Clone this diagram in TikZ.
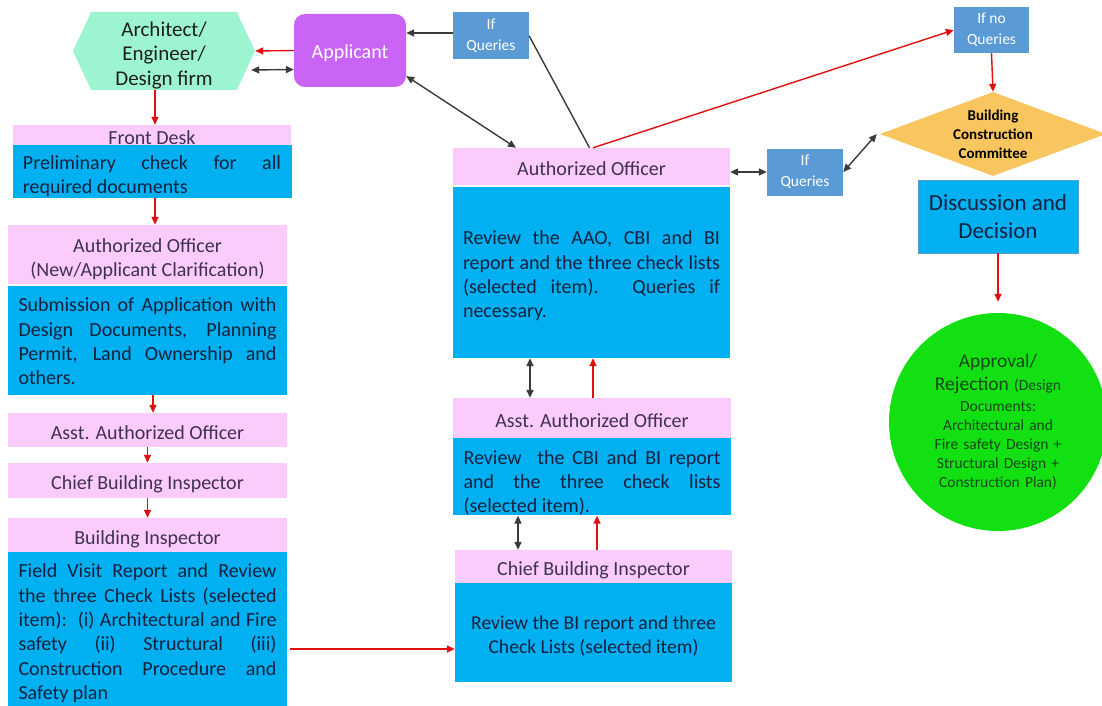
\documentclass[tikz,border=0pt]{standalone}
\usepackage{fontspec}
\setmainfont{Carlito}
\usetikzlibrary{arrows.meta,shapes.geometric,shapes.symbols,calc}

\definecolor{bandpink}{HTML}{FBCBFB}
\definecolor{bandtext}{HTML}{3F3151}
\definecolor{bodyblue}{HTML}{00B0F0}
\definecolor{bodytext}{HTML}{15213F}
\definecolor{qblue}{HTML}{5B9BD5}
\definecolor{apppurple}{HTML}{C964F6}
\definecolor{mint}{HTML}{9CF5D0}
\definecolor{minttext}{HTML}{1E1E1E}
\definecolor{gold}{HTML}{F9C55E}
\definecolor{okgreen}{HTML}{12E012}
\definecolor{greentext}{HTML}{174A17}
\definecolor{arrred}{HTML}{E01010}
\definecolor{arrgray}{HTML}{3A3A3A}

\begin{document}
% no hyphenation inside the justified boxes, and some slack for tight lines
\hyphenpenalty=10000
\exhyphenpenalty=10000
\emergencystretch=20pt
\begin{tikzpicture}[x=1pt,y=-1pt,
  every node/.style={inner sep=0pt},
  band/.style={fill=bandpink, text=bandtext, minimum width=279, align=center,
    text height=18.5pt, text depth=0pt, font=\fontsize{20}{23.5}\selectfont},
  body/.style={fill=bodyblue, text=bodytext, text width=258, inner xsep=10.5,
    text height=21pt, align=justify, font=\fontsize{20}{24.3}\selectfont},
  query/.style={fill=qblue, text=white, minimum width=76, minimum height=47,
    align=center, font=\fontsize{15.5}{21}\selectfont},
  flow/.style={draw=arrred, line width=1.4, -{Triangle[length=8,width=7]}},
  link/.style={draw=arrgray, line width=1.4, {Triangle[length=8,width=7]}-{Triangle[length=8,width=7]}},
  tie/.style={draw=arrgray, line width=1.4},
  toward/.style={draw=arrgray, line width=1.4, -{Triangle[length=8,width=7]}}
]
\fill[white] (0,0) rectangle (1102,706);
\useasboundingbox (0,0) rectangle (1102,706);

% ---------- top row ----------
\node[signal, signal to=west and east, signal pointer angle=130, fill=mint,
  minimum width=182, minimum height=78,
  label={[yshift=-4.5pt, align=center, text=minttext, font=\fontsize{21}{24.5}\selectfont]center:Architect/\\Engineer/\\Design firm}]
  (arch) at (164,51) {};
\node[fill=apppurple, rounded corners=11, minimum width=112, minimum height=73,
  text=white, text depth=0pt, font=\fontsize{20}{24}\selectfont] (app) at (350,50.5)
  {\raisebox{-1.5pt}{Applicant}};
\node[query] (q1) at (491,36) {If\\Queries};
\node[query, minimum width=75, minimum height=46] (q2) at (991.5,30) {If no\\Queries};

% ---------- left column ----------
\node[band, minimum width=278, minimum height=20] (fd_h) at (152,135) {Front Desk};
\node[body, minimum height=53, text height=23.5pt] (fd_b) at (152,171.5)
  {Preliminary check for all\linebreak required documents};
\node[band, minimum height=59, text height=48pt, text depth=5pt] (ao_h) at (147.5,254.5)
  {Authorized Officer\\(New/Applicant Clarification)};
\node[body, minimum height=109, text height=16pt] (ao_b) at (147.5,340.5)
  {Submission of Application with\linebreak Design Documents, Planning\linebreak
   Permit, Land Ownership and\linebreak others.};
\node[band, minimum height=34] (aao_h) at (147.5,430) {Asst. Authorized Officer};
\node[band, minimum height=35] (cbi_h) at (147.5,480.5) {Chief Building Inspector};
\node[band, minimum height=34] (bi_h) at (147.5,535) {Building Inspector};
\node[body, minimum height=158, text height=18.5pt] (bi_b) at (147.5,631)
  {Field Visit Report and Review\linebreak the three Check Lists (selected\linebreak
   item):\ \ (i) Architectural and Fire\linebreak safety (ii) Structural (iii)\linebreak
   Construction Procedure and\linebreak Safety plan};

% ---------- middle column ----------
\node[band, minimum width=277, minimum height=37] (mao_h) at (591.5,166.5) {Authorized Officer};
\node[body, minimum height=171, text width=257, inner xsep=10] (mao_b) at (591.5,272.5)
  {Review the AAO, CBI and BI\linebreak report and the three check lists\linebreak
   (selected item). Queries if\linebreak necessary.};
\node[band, minimum width=278, minimum height=40] (maao_h) at (592,418) {Asst. Authorized Officer};
\node[body, minimum height=77, text width=257, inner xsep=10.5, text height=26.5pt] (maao_b) at (592,476.5)
  {Review\ \ the CBI and BI report\linebreak and the three check lists\linebreak
   (selected item).};
\node[band, minimum width=277, minimum height=33] (mcbi_h) at (593.5,566.5) {Chief Building Inspector};
\node[fill=bodyblue, text=bodytext, minimum width=277, minimum height=99, align=center,
  text height=47pt, text depth=5pt, font=\fontsize{19.6}{24.3}\selectfont] (mcbi_b) at (593.5,632.5)
  {Review the BI report and three\\Check Lists (selected item)};

% ---------- right column ----------
\node[query] (q3) at (805,172) {If\\Queries};
\node[diamond, fill=gold, minimum width=226, minimum height=84,
  label={[align=center, text=black, font=\bfseries\fontsize{15}{19}\selectfont]center:Building\\Construction\\Committee}]
  (bcc) at (993,134) {};
\node[fill=bodyblue, draw=qblue, line width=0.6, minimum width=160, minimum height=73,
  align=center, text=bodytext, text depth=0pt, font=\fontsize{23}{28}\selectfont] (disc) at (998,216.5)
  {Discussion and\\Decision};
\node[circle, fill=okgreen, minimum size=218, text width=150, align=center,
  text=greentext, font=\fontsize{15.5}{19}\selectfont] (verdict) at (998,422)
  {{\fontsize{19.5}{23}\selectfont Approval/}\\[4pt]{\fontsize{19.5}{23}\selectfont Rejection} (Design\\[2pt]
   Documents:\\Architectural and\\Fire safety Design +\\Structural Design +\\Construction Plan)};

% ---------- connectors: left column ----------
\draw[flow] (app.west) -- (arch.east);
\draw[link] ([yshift=-19pt]app.west) -- ($(arch.east)+(-4,19)$);
\draw[flow] ([xshift=-9pt]arch.south) -- ([xshift=-9pt]arch.south |- fd_h.north);
\draw[flow] ([xshift=3pt]fd_b.south) -- ([xshift=3pt]fd_b.south |- ao_h.north);
\draw[flow] ([xshift=5.5pt]ao_b.south) -- ([xshift=5.5pt]ao_b.south |- aao_h.north);
\draw[flow] (aao_h.south) -- (cbi_h.north);
\draw[flow] (cbi_h.south) -- (bi_h.north);
\draw[flow] ([yshift=-18pt,xshift=3pt]bi_b.east) -- ([yshift=-18pt]bi_b.east -| mcbi_b.west);

% ---------- connectors: middle column ----------
\draw[toward] ([yshift=3pt]q1.west) -- ([yshift=3pt]q1.west -| app.east);
\draw[tie] (q1.east) -- ([xshift=-2pt]mao_h.north);
\draw[link] ([yshift=-25.5pt]app.east) -- ([xshift=-75.5pt]mao_h.north);
\draw[flow] ([xshift=1.5pt]mao_h.north) -- (q2.west);
\draw[link] ([xshift=-61.5pt]mao_b.south) -- ([xshift=-62pt]maao_h.north);
\draw[flow] ([xshift=1pt]maao_h.north) -- ([xshift=1pt]maao_h.north |- mao_b.south);
\draw[link] ([xshift=-74pt]maao_b.south) -- ([xshift=-75.5pt]mcbi_h.north);
\draw[flow] ([xshift=3.5pt]mcbi_h.north) -- ([xshift=3.5pt]mcbi_h.north |- maao_b.south);

% ---------- connectors: right column ----------
\draw[link] (q3.west) -- (q3.west -| mao_h.east);
\draw[link] (q3.east) -- ([xshift=-3pt]bcc.west);
\draw[flow] (q2.south) -- (bcc.north);
\draw[flow] (disc.south) -- ([yshift=11pt]verdict.north);
\end{tikzpicture}
\end{document}
